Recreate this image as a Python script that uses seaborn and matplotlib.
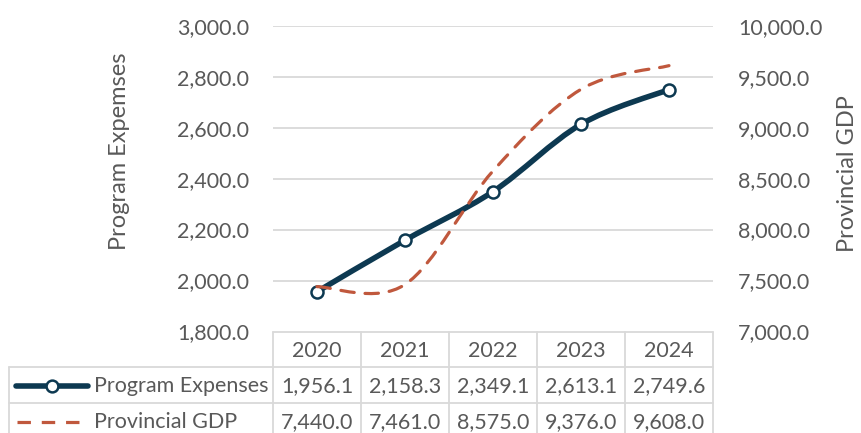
import numpy as np
import matplotlib
matplotlib.use("Agg")
import matplotlib.pyplot as plt
from matplotlib.path import Path
from matplotlib.patches import PathPatch
from matplotlib.lines import Line2D
import matplotlib.transforms as mtransforms
import seaborn as sns

years = ["2020", "2021", "2022", "2023", "2024"]
program_expenses = [1956.1, 2158.3, 2349.1, 2613.1, 2749.6]
provincial_gdp = [7440.0, 7461.0, 8575.0, 9376.0, 9608.0]
series_names = ["Program Expenses", "Provincial GDP"]
left_ticks = [1800, 2000, 2200, 2400, 2600, 2800, 3000]
right_ticks = [7000, 7500, 8000, 8500, 9000, 9500, 10000]

NAVY = "#0D3951"
RUST = "#C0583D"
GREY_TXT = "#595959"
GRID = "#D9D9D9"
FONT = "Lato"
FS = 15.5
FS_TITLE = 17

sns.set_theme(style="white")
plt.rcParams["font.family"] = [FONT, "DejaVu Sans"]

W, H = 861, 433
fig = plt.figure(figsize=(W / 100, H / 100), dpi=100)
fig.patch.set_facecolor("white")

# plot area in pixel coordinates
px_left, px_right, px_top, px_bottom = 273, 713, 25.7, 331.5
ax = fig.add_axes([px_left / W, 1 - px_bottom / H,
                   (px_right - px_left) / W, (px_bottom - px_top) / H])
ax2 = ax.twinx()

x = np.arange(len(years))
ax.set_xlim(-0.5, len(years) - 0.5)
ax.set_ylim(left_ticks[0], left_ticks[-1])
ax2.set_ylim(right_ticks[0], right_ticks[-1])


def smooth_path(xs, ys):
    """Bezier path through points with Excel-like smoothing."""
    pts = np.column_stack([xs, ys]).astype(float)
    n = len(pts)
    verts = [pts[0]]
    codes = [Path.MOVETO]
    for i in range(n - 1):
        p_prev = pts[i - 1] if i > 0 else pts[i]
        p0, p1 = pts[i], pts[i + 1]
        p_next = pts[i + 2] if i + 2 < n else pts[i + 1]
        c1 = p0 + (p1 - p_prev) / 6.0
        c2 = p1 - (p_next - p0) / 6.0
        verts += [c1, c2, p1]
        codes += [Path.CURVE4] * 3
    return Path(verts, codes)


# horizontal gridlines
for t in left_ticks[1:]:
    ax.axhline(t, color=GRID, lw=1.3, zorder=0)

ax.add_patch(PathPatch(smooth_path(x, program_expenses), fill=False,
                       edgecolor=NAVY, lw=4.0, capstyle="round",
                       joinstyle="round", zorder=3))
sns.scatterplot(x=x, y=program_expenses, ax=ax, s=75, marker="o",
                facecolor="white", edgecolor=NAVY, linewidth=1.8, zorder=4,
                legend=False)

ax2.add_patch(PathPatch(smooth_path(x, provincial_gdp), fill=False,
                        edgecolor=RUST, lw=2.3, linestyle=(0, (4.2, 3.4)),
                        capstyle="round", zorder=5))

for a in (ax, ax2):
    for s in a.spines.values():
        s.set_visible(False)
    a.tick_params(axis="both", length=0, labelsize=FS, labelcolor=GREY_TXT)
    a.grid(False)
    a.set_xticks([])

ax.set_yticks(left_ticks)
ax.set_yticklabels([f"{v:,.1f}" for v in left_ticks])
ax.tick_params(axis="y", pad=17)
ax2.set_yticks(right_ticks)
ax2.set_yticklabels([f"{v:,.1f}" for v in right_ticks])
ax2.tick_params(axis="y", pad=18)
ax.set_ylabel("")
ax2.set_ylabel("")

fig.text(120 / W, 1 - 151 / H, "Program Expemses", rotation=90,
         ha="center", va="center", fontsize=FS_TITLE, color=GREY_TXT)
fig.text(848 / W, 1 - 174 / H, "Provincial GDP", rotation=90,
         ha="center", va="center", fontsize=FS_TITLE, color=GREY_TXT)

# data table under the chart
tr = mtransforms.blended_transform_factory(ax.transData, fig.transFigure)
def fy(py):
    return 1 - py / H

row_edges = [332, 367, 403, 445]
col_edges = np.arange(len(years) + 1) - 0.5
tbl_col = "#D9D9D9"
tlw = 1.3
# horizontal rules
fig.add_artist(Line2D([col_edges[0], col_edges[-1]], [fy(row_edges[0])] * 2,
                      transform=tr, color=tbl_col, lw=tlw))
for ry in row_edges[1:3]:
    fig.add_artist(Line2D([9 / W, px_right / W], [fy(ry)] * 2,
                          transform=fig.transFigure, color=tbl_col, lw=tlw))
# vertical rules
for cx in col_edges:
    fig.add_artist(Line2D([cx, cx], [fy(row_edges[0]), fy(row_edges[-1])],
                          transform=tr, color=tbl_col, lw=tlw))
fig.add_artist(Line2D([9 / W, 9 / W], [fy(row_edges[1]), fy(row_edges[-1])],
                      transform=fig.transFigure, color=tbl_col, lw=tlw))

header_y, row1_y, row2_y = 351, 386, 422
for i, yr in enumerate(years):
    fig.text(i, fy(header_y), yr, transform=tr, ha="center", va="center",
             fontsize=FS, color=GREY_TXT)
    fig.text(i, fy(row1_y), f"{program_expenses[i]:,.1f}", transform=tr,
             ha="center", va="center", fontsize=FS, color=GREY_TXT)
    fig.text(i, fy(row2_y), f"{provincial_gdp[i]:,.1f}", transform=tr,
             ha="center", va="center", fontsize=FS, color=GREY_TXT)

# legend keys inside the row headers
fig.add_artist(Line2D([16 / W, 88 / W], [fy(row1_y)] * 2,
                      transform=fig.transFigure, color=NAVY, lw=4.0,
                      solid_capstyle="round"))
fig.add_artist(Line2D([52 / W], [fy(row1_y)], transform=fig.transFigure,
                      marker="o", markersize=8.5, markerfacecolor="white",
                      markeredgecolor=NAVY, markeredgewidth=1.8, lw=0))
fig.add_artist(Line2D([17 / W, 82 / W], [fy(row2_y)] * 2,
                      transform=fig.transFigure, color=RUST, lw=2.3,
                      linestyle=(0, (4.2, 3.4))))
fig.text(94 / W, fy(row1_y), series_names[0], ha="left", va="center",
         fontsize=FS, color=GREY_TXT)
fig.text(94 / W, fy(row2_y), series_names[1], ha="left", va="center",
         fontsize=FS, color=GREY_TXT)

fig.savefig("out.png", dpi=100, facecolor="white")
